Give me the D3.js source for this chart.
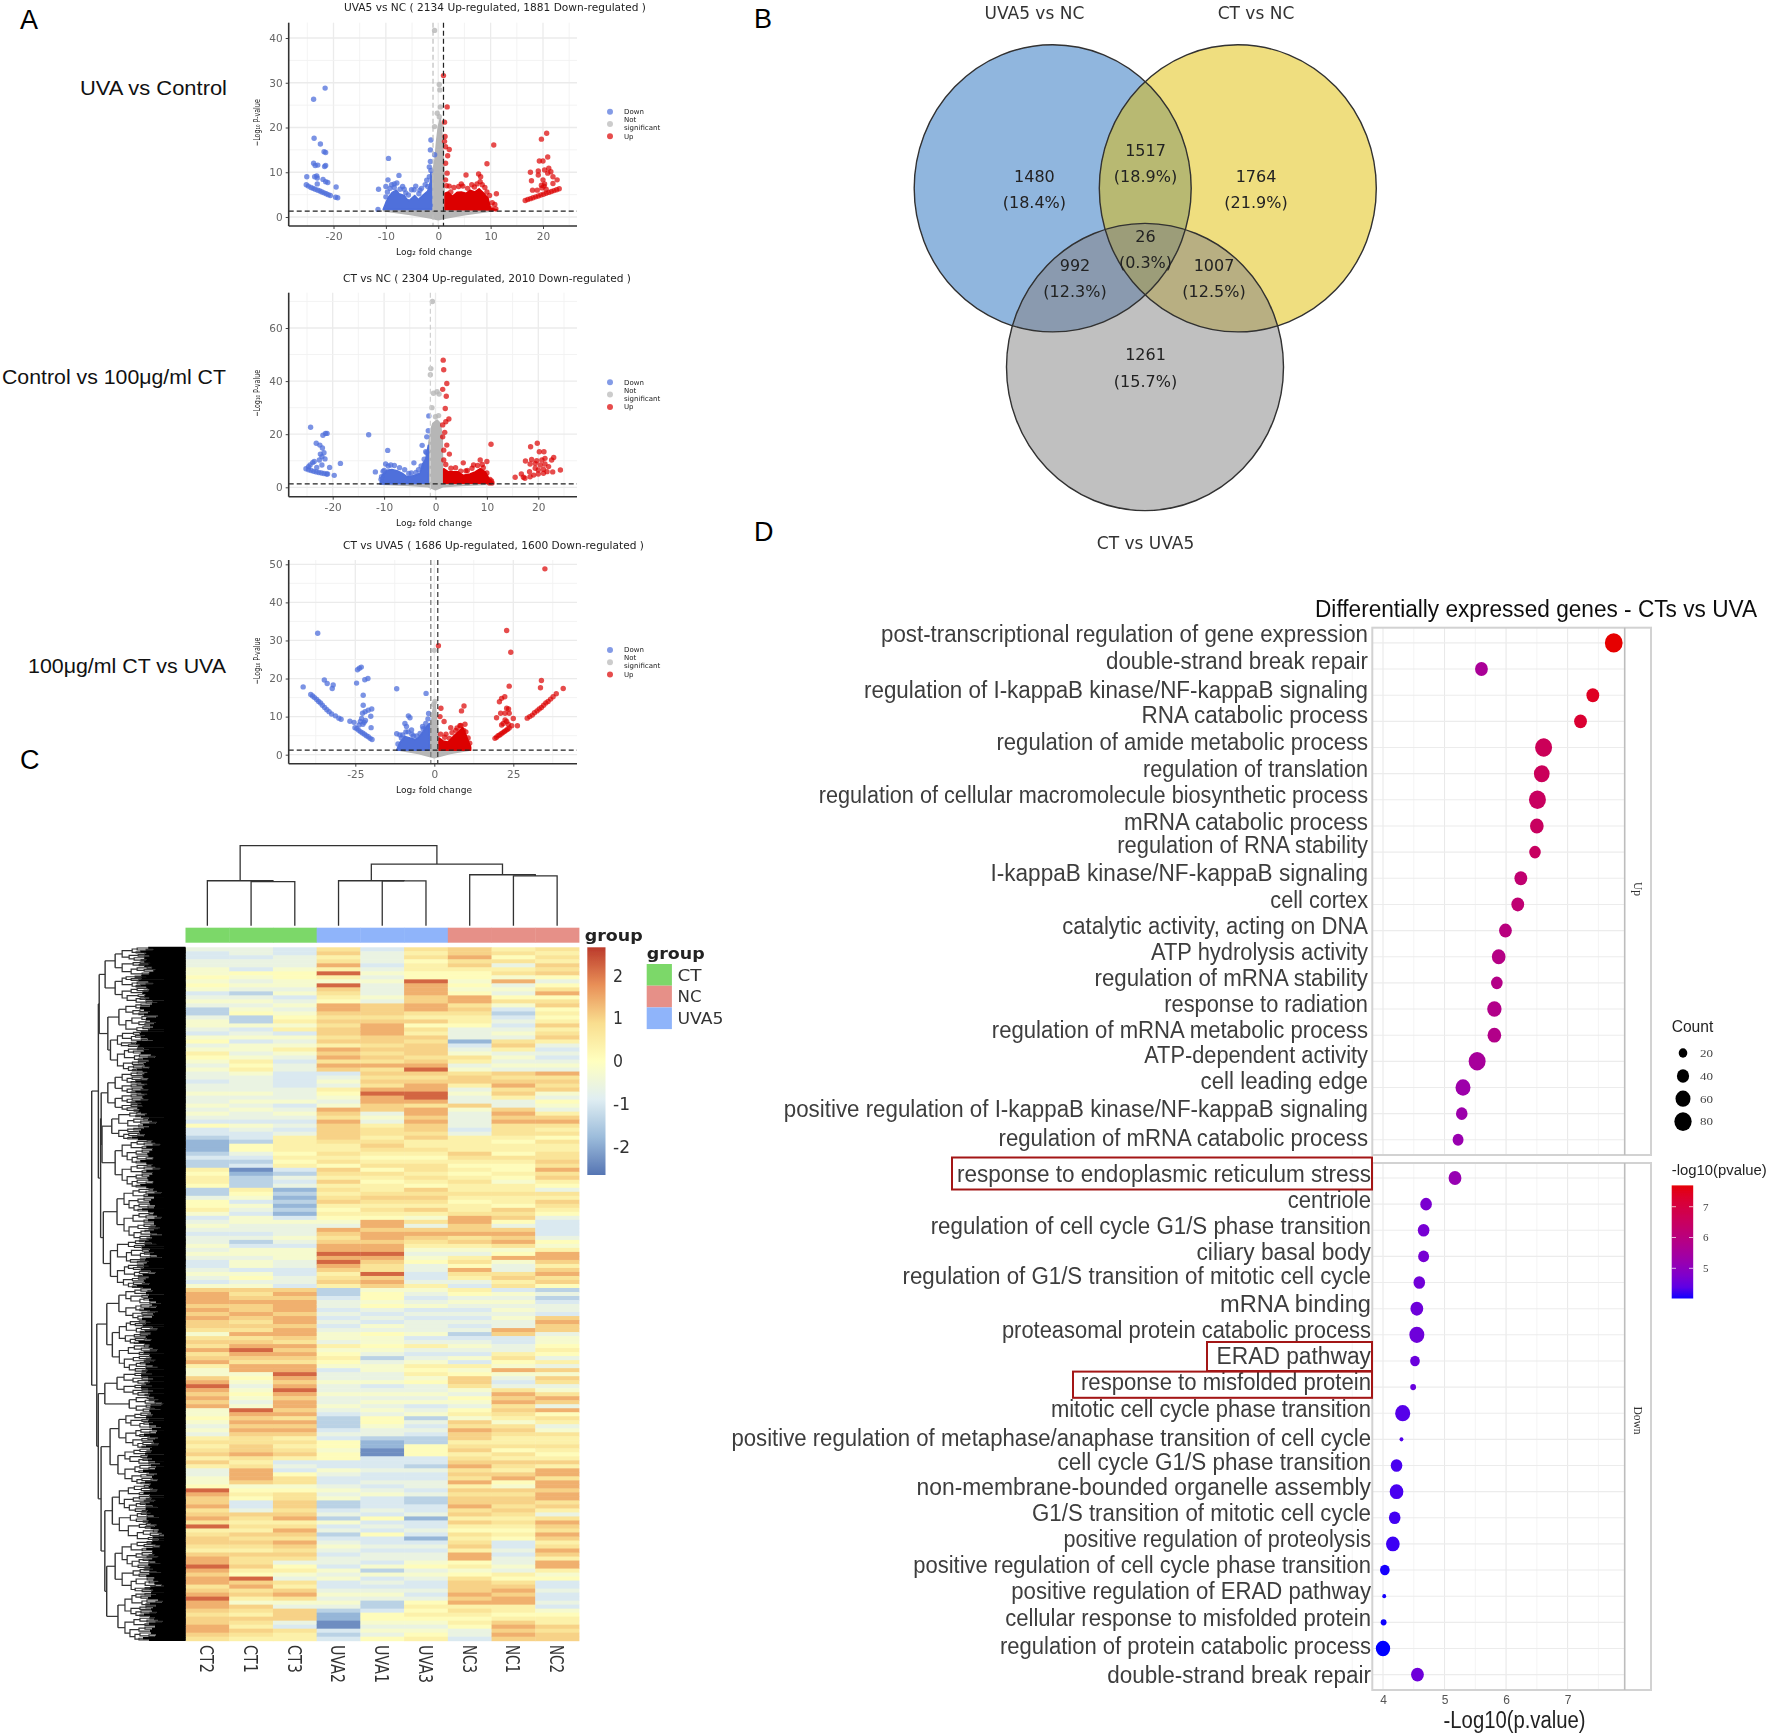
<!DOCTYPE html>
<html><head><meta charset="utf-8">
<script src="https://cdn.jsdelivr.net/npm/d3@7"></script>
<style>html,body{margin:0;padding:0;background:#fff}svg{display:block}</style>
</head><body><svg id="c" width="1772" height="1735" xmlns="http://www.w3.org/2000/svg"></svg>
<script>
/* ===== DATA: volcano 1 (UVA5 vs NC) ===== */
const v1Title="UVA5 vs NC ( 2134 Up-regulated, 1881 Down-regulated )";
const v1XTicks=[-20,-10,0,10,20], v1YTicks=[0,10,20,30,40];
const v1Down=[[-21.6,28.8],[-23.8,26.3],[-23.7,17.6],[-22.5,16.3],[-21.8,14.6],[-21.5,14.4],[-23.8,12],[-23.5,11.5],[-23,11.6],[-21.5,11.5],[-21.7,11.3],[-25.1,9],[-23.6,9],[-23.2,9.2],[-23.1,8.7],[-22,8.4],[-21.5,7.9],[-21.1,7.7],[-19.5,6.7],[-23.1,7.4],[-19.6,4.4],[-19.2,4.3],[-25.2,7.2],[-24.8,6.9],[-24.3,6.6],[-23.9,6.4],[-23.5,6.2],[-23,6],[-22.6,5.8],[-22.2,5.6],[-21.8,5.4],[-21.4,5.2],[-21,5],[-20.6,4.8],[-9.5,13.1],[-7.5,9.3],[-9.6,8.3],[-8.4,7.4],[-11.4,6.2],[-10,6.8],[-11.5,1.7],[-1.4,17.2],[-1.5,15],[-0.7,13.9],[-1.4,10.4],[-1.7,9],[-2,6.8],[-4.6,6.1],[-3.5,6],[-6.5,6.2]];
const v1DownEdge=[[-10,4.5],[-9.7,5.6],[-9.2,6.4],[-8.9,7.2],[-8.4,6.6],[-7.9,7.6],[-7.3,6.2],[-6.8,6.8],[-6.2,5.4],[-5.7,4.9],[-5.1,6.1],[-4.3,6.9],[-3.7,5.2],[-3.2,6.4],[-2.5,7.2],[-2.2,8.2],[-1.7,11.2],[-1.5,12.4]];
const v1Up=[[1,31.6],[1.7,24.6],[1.2,21.2],[1.3,18],[1.2,16.9],[1.4,15.7],[2.1,15.1],[1.8,13.7],[1.4,12],[1.7,9.8],[1.4,8.3],[10.6,16.1],[9.3,11.9],[5.3,9.4],[7.7,9.6],[8.1,9],[4.4,7.4],[2.1,6.9],[8.4,7.2],[11.1,5.2],[10.2,1.8],[11,1.8],[20.7,18.7],[19.7,17.4],[20.9,13.4],[19.3,12.5],[20,12.5],[21.1,10.9],[20.3,10.5],[21.5,10.1],[17.6,10],[19.1,10.3],[19.1,9.4],[20.9,9.8],[21.9,9],[17.8,8.1],[20,8.3],[22.7,8.3],[19.7,7.1],[20.3,7.4],[18,6],[18.9,6],[21.9,7.5],[16.6,3.7],[17.1,3.9],[17.6,4.1],[18.1,4.3],[18.6,4.5],[19.1,4.7],[19.6,4.9],[20.1,5.1],[20.6,5.3],[21.1,5.5],[21.6,5.7],[22.1,5.9],[22.6,6.1],[23.1,6.3],[19.8,6.5],[20.2,6.9],[20.6,6.2]];
const v1UpEdge=[[1.6,7],[2.4,5.6],[3,6.6],[3.9,6.8],[4.7,6.9],[5.6,6.4],[6.4,7.2],[6.9,6.7],[7.4,7.4],[8,7.9],[8.9,6.6],[9.3,5.6],[9.8,4.8],[10.3,3.2],[10.8,2.8]];
const v1Grey=[[-0.7,41.7],[0.2,29.6],[0.3,28.4],[-0.2,23.2],[0.2,22.4],[-0.7,20.2],[0.5,20.4],[0.4,24.6]];
const v1DownMass=[[-10.5,1.7],[-10,3.2],[-9.5,4.4],[-8.8,5.5],[-8,6],[-7.5,5.2],[-6.5,4.8],[-6,4],[-5.5,3.7],[-4.5,4.8],[-3.8,3.9],[-3,4.8],[-2,5.8],[-1.5,7.8],[-1.4,10],[-1.2,1.7]];
const v1UpMass=[[1.3,1.7],[1.3,5.3],[1.9,5.6],[2.7,4.6],[3.6,5.5],[4.4,5.6],[5.3,5.3],[6.1,6],[7,5.6],[7.8,6.3],[8.7,5.3],[9.5,4.2],[10,1.9],[11.2,1.6]];
const v1GreyMass=[[-1.2,1.5],[-1.2,9],[-0.6,13],[-0.3,17],[0,20],[0.4,22],[0.6,20],[0.9,15],[1.1,10],[1.1,1.5]];
const v1Fan=[[-10.5,1.4],[-5,0.5],[-1.5,-0.2],[0,-0.6],[1.5,-0.2],[5,0.5],[10.5,1.4]];
/* volcano 2 (CT vs NC) */
const v2Title="CT vs NC ( 2304 Up-regulated, 2010 Down-regulated )";
const v2XTicks=[-20,-10,0,10,20], v2YTicks=[0,20,40,60];
const v2Down=[[-24.3,22.6],[-21.9,19.6],[-21.4,20.3],[-21.1,20.3],[-23.2,16.6],[-22.5,15.9],[-22,14.8],[-22.4,12.5],[-21.7,13],[-22.1,11.5],[-21.5,10.7],[-23.6,9.7],[-23.9,9.3],[-22.6,10.3],[-24.4,8.4],[-24.7,7.8],[-22.1,8.4],[-23.1,7.5],[-18.5,9],[-20.6,7.5],[-19.7,4.5],[-21,5],[-25.2,7],[-24.7,6.6],[-24.2,6.3],[-23.7,6],[-23.2,5.8],[-22.7,5.6],[-22.2,5.4],[-21.7,5.2],[-21.2,5],[-13,19.8],[-9.3,13.9],[-11.7,5.8],[-9.7,8.8],[-4.2,9.2],[-2.6,15.8],[-1.9,13.4],[-1.3,26.9],[-1.4,21.3],[-1.7,19],[-10.5,4],[-10.2,6]];
const v2DownEdge=[[-10.6,3],[-10,6.3],[-9.2,8],[-8.7,8.4],[-8,8.2],[-7,7.4],[-6,6.6],[-5.2,5.2],[-4.7,5.4],[-3.8,5.6],[-3.3,6.6],[-2.8,8],[-2.2,10.6],[-1.7,13]];
const v2Up=[[1.5,47.9],[1.6,44.3],[2.2,39.1],[1.4,36.9],[2.1,34.3],[1.9,29.7],[2.6,25.7],[2,24.7],[1.4,23.5],[1.8,20.7],[1.4,19],[2.2,15.9],[1.6,14],[2.7,12.5],[1.6,10.3],[10.8,16.2],[8.7,10.3],[10,9.7],[5.4,9.2],[7.4,8.4],[19.8,16.6],[18.5,15.3],[20.2,13.4],[21.1,13.4],[23,11.2],[22.6,10.3],[17.5,9.9],[18.7,10.5],[19.7,10],[20.7,10.3],[21.3,10.9],[18.4,8.8],[19.4,9],[20.4,8.4],[21.3,8.8],[22,7.8],[19.4,7.2],[20,6.5],[21,6.8],[21.7,5.9],[22.8,5.8],[24.3,6.5],[15.5,3.8],[16.7,5],[17.1,3.8],[18.3,5.9],[18.4,4],[19.1,4.6],[20,5],[21,5.3],[17.4,3.4],[10.5,1.6],[11,1.6]];
const v2UpEdge=[[2,8.6],[3,7.2],[3.9,7.4],[4.9,6.1],[5.9,6.2],[6.2,6.3],[7.1,7.2],[8.2,8.2],[9.1,8.6],[9.3,7.4],[10,5.4],[10.6,3],[10.9,2.4]];
const v2Grey=[[-0.6,70],[-0.9,44.7],[-1,42.4],[-0.4,35.4],[0.3,36],[0.7,35.1],[-0.7,30],[0.6,27],[0,26.6]];
const v2DownMass=[[-10.8,1.3],[-10.4,4.5],[-9.5,6.4],[-8.5,6.7],[-7.5,6.2],[-6.5,5.3],[-5.6,4],[-4.3,4.3],[-3,5.3],[-2.5,8.8],[-1.9,10.6],[-1.4,15.8],[-1.4,1.5]];
const v2UpMass=[[1.6,1.5],[1.6,7],[2.5,5.8],[3.5,5.8],[4.4,5.8],[5.4,4.5],[6.7,5],[7.7,5.8],[8.7,7],[9.7,5.8],[10.3,3.6],[11.2,1.5]];
const v2GreyMass=[[-1.3,1.5],[-1.3,16.6],[-0.9,21.6],[-0.5,24.1],[0.3,25.3],[0.9,24.1],[1.3,19],[1.4,1.5]];
const v2Fan=[[-10.8,1.2],[-5,0.7],[-1.4,0.2],[0,-0.9],[1.4,0.2],[5,0.7],[10.5,1.2]];
/* volcano 3 (CT vs UVA5) */
const v3Title="CT vs UVA5 ( 1686 Up-regulated, 1600 Down-regulated )";
const v3XTicks=[-25,0,25], v3YTicks=[0,10,20,30,40,50];
const v3Down=[[-36.9,31.9],[-41.5,17.8],[-34.8,19.6],[-33.9,18.7],[-32,18.3],[-32.3,17.4],[-23.1,23],[-24.3,22.3],[-23.7,22.7],[-24.6,18.8],[-22,19.7],[-21,20],[-22.5,15.6],[-22.5,13],[-19.8,12],[-20.9,11.7],[-21.9,11.3],[-22.7,10.9],[-20.1,10.1],[-26.7,8.8],[-25.4,8.5],[-20,7.1],[-11.9,17.3],[-2.6,16.1],[-23.4,8.7],[-23,9.5],[-22.6,8],[-22.2,8.5],[-23.8,7.8],[-21.8,9],[-39.1,15.8],[-38.5,15.4],[-37.9,15],[-37.2,14.5],[-36.6,14],[-36,13.6],[-35.4,13],[-34.7,12.4],[-34,11.8],[-33.3,11.3],[-32.5,10.7],[-31.3,10.2],[-30.2,9.6],[-29.5,9.3],[-25.1,7.1],[-24.5,6.8],[-23.9,6.4],[-23.3,6],[-22.7,5.7],[-22.1,5.4],[-21.5,5],[-20.9,4.7],[-20.3,4.3],[-19.7,4],[-8.2,10.2],[-7.7,9.7],[-9.3,8.2],[-8.8,7.4],[-7.2,6.5],[-11.9,5.5],[-10.9,5.2],[-3.7,7.4],[-2.6,6.9]];
const v3DownEdge=[[-11.5,2.8],[-10.4,4.4],[-10,5.2],[-9,6],[-8.3,6],[-7.1,5.4],[-6.6,4.9],[-5.6,4.9],[-4.5,5.6],[-3.5,6.8],[-2.7,8.2],[-2,9.4],[-1.8,10.8]];
const v3Up=[[35,48.8],[22.9,32.6],[24.2,26.9],[33.9,19.5],[33.6,17.6],[23.7,18],[22.3,15.2],[21.3,14.8],[20.6,13.9],[22.9,12.2],[23.5,12],[22.4,10.9],[23.7,10.9],[21,10.9],[19.7,9.7],[25,9.5],[26.3,7.6],[1.3,28.6],[22.4,9.1],[22.9,8.7],[21.8,8.2],[23.4,8],[21.3,7.8],[24.5,7.6],[29.4,9.6],[30.2,10],[31,10.4],[31.7,11],[32.5,11.5],[33.2,12],[33.9,12.4],[34.6,13],[35.3,13.6],[36,14],[36.8,14.6],[37.6,15.2],[38.6,16],[40.8,17.4],[19.2,4.3],[19.7,4.6],[20.2,5],[20.7,5.2],[21.2,5.5],[21.7,5.8],[22.2,6.1],[22.7,6.4],[23.2,6.7],[23.7,7],[2.1,12.2],[1.8,10],[3.1,8.7],[8.6,11.5],[9.4,12.8],[5.2,7.1],[8.1,7.6],[9.7,8],[3.7,5.4]];
const v3UpEdge=[[2,5.4],[3.3,4.6],[4.8,4.3],[5.6,5.8],[6.8,6.4],[7.2,7],[8.4,7.7],[9.3,6.4],[10,6],[10.7,4.4],[11.2,3]];
const v3Grey=[[0,27.4],[0.2,14],[-0.2,13.2]];
const v3DownMass=[[-11.9,1.2],[-10.9,3.2],[-9.3,4.8],[-7.7,4.4],[-6.1,4],[-5.1,4.4],[-4,5.5],[-3,6.8],[-1.6,8.2],[-1.6,1.2]];
const v3UpMass=[[1.5,1.2],[1.5,4.4],[2.8,3.6],[4.4,3.3],[6,4.8],[7.6,6],[9,7.2],[10.2,4.8],[11.5,2],[11.5,1.2]];
const v3GreyMass=[[-1.5,1.2],[-1.4,7],[-0.8,9],[-0.2,13],[0.2,14],[0.6,10],[1.1,7],[1.3,1.2]];
const v3Fan=[[-11,1.2],[-5,0.3],[0,-0.8],[5,0.3],[11,1.2]];
const volcanoLegend=["Down","Not","significant","Up"];

/* ===== DATA: Venn ===== */
const vennSets=["UVA5 vs NC","CT vs NC","CT vs UVA5"];
const vennCounts=["1480","1517","1764","992","26","1007","1261"];
const vennShares=["(18.4%)","(18.9%)","(21.9%)","(12.3%)","(0.3%)","(12.5%)","(15.7%)"];

/* ===== DATA: heatmap (each letter = one row, level) ===== */
const heatColumns=["CT2","CT1","CT3","UVA2","UVA1","UVA3","NC3","NC1","NC2"];
const heatGroups=["CT","CT","CT","UVA5","UVA5","UVA5","NC","NC","NC"];
const heatLevels={a:-2.3,b:-1.8,c:-1.35,d:-.95,e:-.6,f:-.25,g:.08,h:.38,i:.7,j:1.0,k:1.38,l:2.15};
const heatCT2=["eddee","ffgfg","fdefe","cceff","edfge","fhgfe","feede","efeef","efedg","ddcbb","bcdcc","hghhg","ccegg","hfdef","edeef","efedd","efedf","jkkkj","kjkjj","ifiji","kijkh","ffjkl","kjkjk","ffg","fefeh","ihijh","jheef","fglkj","jkijk","ilhij","jihjk","klkjk","kijkl","kkjij","jkkji"].join("");
const heatCT1=["eedee","dgfef","ecefe","fgccf","defdf","fefhg","hfeee","efefe","feedf","eddcg","gedcd","abccc","hgfdf","edffe","edecd","ffeff","dfgef","jijkj","jkjij","ikijk","lkjik","kfgfe","fgfef","lkj","kjkji","ijjki","hikkk","jfghg","ddeji","hihji","jihji","ijhgl","jkijh","fjihj","ihjih"].join("");
const heatCT3=["ddeee","fggff","efdef","efghf","hdfef","hfede","edddd","eeefd","efede","dehhh","hghgh","dcede","bcbcb","cbdfe","eefed","fffee","ddeed","jkjkk","kjkkj","kkjik","jkjik","klkjk","lkjkk","jki","kjkjh","ihijh","dedgi","ifgii","jjijk","hikji","kjiji","eghfe","ihjki","fejjj","edihh"].join("");
const heatUVA2=["ijhik","hlhfl","jihgk","kjiji","jjijh","kjkik","jdefe","hgfef","kjikj","jjjih","hihig","jihjh","ihijh","ghgfe","kjijk","klklk","jhijh","ccdee","deded","effeh","fghgf","deefe","efeef","edc","ccded","ggfgg","ddfed","defef","ccdec","fdecd","efede","edfef","ddefe","fecbb","aadcd"].join("");
const heatUVA1=["deeed","efefe","eefej","jjijk","kkjji","jijik","ijiji","klkkj","jefeh","iihij","ihghi","gihgh","hijih","ihgkk","jkkjk","klkji","iljkj","fggfg","ededf","egffg","fecef","feefd","efefe","feg","gfeec","bbaad","ddedd","edefd","ddedg","dedgd","dedee","dfcfd","edefe","ccdgg","fefeg"].join("");
const heatUVA3=["ihigh","hgglk","kkjjk","kihjg","ihjij","jjijk","ljijk","kllki","kkjkj","jijhh","ihghi","ihihg","jijih","jhfie","jkjih","fefge","eddeh","fedef","dedee","efdeh","edefh","ghfge","efefd","efc","ededc","cgggd","dcedd","eedec","cddeb","ddedb","dedee","fgefe","ddede","ghghg","fefgh"].join("");
const heatNC3=["jjkij","hggfg","fgkki","jihhg","eeebd","efihe","fijjh","efeej","feeee","dehhh","hjihg","hghih","hihgh","hikkj","jkijh","fehig","kihed","hgefe","deded","ecdef","edfdh","fgjji","fegfe","ghf","jikjj","hijhi","jkiji","khjij","jkijh","jhgih","ijhkk","ghfgi","jjjkj","khihg","hgeed"].join("");
const heatNC1=["higie","hifke","fegif","dcded","efeij","hefef","ejijk","ijhee","jkjki","iihgh","hgihg","ghgfh","hihhg","jijge","jkjki","fgkfe","eijhi","dfefe","fefee","kjdde","ehigf","kfede","ikjki","jih","fijih","higih","jihjk","gfjij","jijih","ihghg","ddede","efehg","ijkjk","khhgh","jkjkj"].join("");
const heatNC2=["ihihj","ijgeg","ikgij","ghghj","hijhe","dedef","ekiji","jfegf","ehjki","higih","hiiji","kijhg","eihji","hgedd","ddegf","hkkjh","jkijg","cecde","edjkj","jeffg","hgehe","jfjie","fikje","kgi","hefih","hihgh","jhkki","kkjkk","ijhei","kjikj","hikjh","kkhfg","ddedd","edfgh","hjijj"].join("");
const heatRows=[heatCT2,heatCT1,heatCT3,heatUVA2,heatUVA1,heatUVA3,heatNC3,heatNC1,heatNC2];
const heatScaleTicks=[2,1,0,-1,-2];
const groupNames=["CT","NC","UVA5"];
const groupColours={CT:"#7BD869",NC:"#E69088",UVA5:"#8FB4FA"};
/* column dendrogram: [height, childA, childB], leaf = column index */
const colTree=[100,[56.2,0,[55,1,2]],[77,[56.2,3,[56,4,5]],[63.7,6,[62.2,7,8]]]];
/* row dendrogram: [distance, childA, childB], leaf = [firstRow,lastRow] */
const rowP1a=[85.7,[75,[0,3.5],[3.5,7]],[75,[7,10],[10,14]]];
const rowP1b=[82.8,[71,[14,17],[17,21]],[80,[21,25],[25,31]]];
const rowP2a=[82.8,[75,[31,34],[34,36.5]],[75,[36.5,39],[39,41]]];
const rowP2b=[89,[78.6,[41,45],[45,48]],[75,[48,54],[54,60]]];
const rowP3=[87.6,[73,[60,66],[66,73]],[80,[73,79],[79,85]]];
const rowUp=[92.9,[92,rowP1a,rowP1b],[90.5,[89.9,rowP2a,rowP2b],rowP3]];
const rowQ1=[83.9,[71,[85,89],[89,93]],[78,[93,99],[99,106]]];
const rowQ2a=[86,[73,[106,109],[109,112]],[60,[112,114],[114,116]]];
const rowQ3=[80.4,[71,[116,120],[120,125]],[72,[125,129],[129,134]]];
const rowQ4=[86,[78,[134,141],[141,148]],[84,[75,[148,155],[155,161]],[72,[161,167],[167,173]]]];
const rowLow=[94.6,rowQ1,[93,rowQ2a,[90,rowQ3,rowQ4]]];
const rowTree=[100,rowUp,rowLow];

/* ===== DATA: enrichment dot plot ===== */
const upTerms=["post-transcriptional regulation of gene expression","double-strand break repair","regulation of I-kappaB kinase/NF-kappaB signaling","RNA catabolic process","regulation of amide metabolic process","regulation of translation","regulation of cellular macromolecule biosynthetic process","mRNA catabolic process","regulation of RNA stability","I-kappaB kinase/NF-kappaB signaling","cell cortex","catalytic activity, acting on DNA","ATP hydrolysis activity","regulation of mRNA stability","response to radiation","regulation of mRNA metabolic process","ATP-dependent activity","cell leading edge","positive regulation of I-kappaB kinase/NF-kappaB signaling","regulation of mRNA catabolic process"];
const upPvalue=[7.75,5.6,7.41,7.21,6.61,6.58,6.51,6.5,6.47,6.24,6.19,5.99,5.88,5.85,5.81,5.81,5.53,5.3,5.28,5.22];
const upCount=[84,44,44,44,77,66,77,50,36,44,44,44,50,36,55,50,77,60,36,32];
const downTerms=["response to endoplasmic reticulum stress","centriole","regulation of cell cycle G1/S phase transition","ciliary basal body","regulation of G1/S transition of mitotic cell cycle","mRNA binding","proteasomal protein catabolic process","ERAD pathway","response to misfolded protein","mitotic cell cycle phase transition","positive regulation of metaphase/anaphase transition of cell cycle","cell cycle G1/S phase transition","non-membrane-bounded organelle assembly","G1/S transition of mitotic cell cycle","positive regulation of proteolysis","positive regulation of cell cycle phase transition","positive regulation of ERAD pathway","cellular response to misfolded protein","regulation of protein catabolic process","double-strand break repair"];
const downPvalue=[5.17,4.7,4.66,4.66,4.59,4.55,4.55,4.52,4.49,4.32,4.3,4.22,4.22,4.19,4.16,4.03,4.02,4.01,4.0,4.56];
const downCount=[44,36,36,32,36,44,60,25,9,60,4,36,50,36,50,25,4,9,55,44];
const sizeLegend=[20,40,60,80];
const pvalueLegend=[7,6,5];
const dotTicks=[4,5,6,7];

/* ===== DRAWING ===== */
const svg=d3.select("#c");
const defs=svg.append("defs");
[["b3",.35],["b5",.55],["b7",.7]].forEach(([id,s])=>{
  defs.append("filter").attr("id",id).attr("filterUnits","userSpaceOnUse").attr("x",0).attr("y",0).attr("width",1772).attr("height",1735)
    .append("feGaussianBlur").attr("stdDeviation",s);
});
const SANS="'Liberation Sans',Arial,sans-serif", DEJA="'DejaVu Sans',sans-serif", SERIF="'Liberation Serif',serif";
function label(g,t,x,y,o={}){
  const e=g.append("text").attr("x",x).attr("y",y).attr("dy",".35em").text(t)
    .attr("font-family",o.font||SANS).attr("font-size",o.size||14).attr("fill",o.fill||"#111")
    .attr("text-anchor",o.anchor||"start");
  if(o.weight)e.attr("font-weight",o.weight);
  if(o.len)e.attr("textLength",o.len).attr("lengthAdjust","spacingAndGlyphs");
  if(o.rotate)e.attr("transform",`rotate(${o.rotate} ${x} ${y})`);
  return e;
}
/* panel letters + side labels */
const top0=svg.append("g");
[["A",20,20],["B",754,19],["C",20,760],["D",754,532]].forEach(([t,x,y])=>label(top0,t,x,y,{size:27,fill:"#000"}));
label(top0,"UVA vs Control",80,87.5,{size:20.5,len:147});
label(top0,"Control vs 100μg/ml CT",2,376.5,{size:20.5,len:224});
label(top0,"100μg/ml CT vs UVA",28,665.5,{size:20.5,len:198});

/* ---- volcano panels ---- */
const BLUE="#4F6FDB",RED="#DC0404",GREY="#B6B6B6";
function volcano(c){
  const g=svg.append("g").attr("filter","url(#b7)");
  const x=d3.scaleLinear([c.xt[0],c.xt[c.xt.length-1]],c.xr);
  const y=d3.scaleLinear([c.yt[0],c.yt[c.yt.length-1]],c.yr);
  const xStep=c.xt[1]-c.xt[0], yStep=c.yt[1]-c.yt[0];
  const grid=g.append("g");
  d3.range(c.xmin,c.xmax+.01,xStep/2).forEach(v=>{
    const major=c.xt.includes(v);
    grid.append("line").attr("x1",x(v)).attr("x2",x(v)).attr("y1",c.top).attr("y2",c.bottom).attr("stroke",major?"#ebebeb":"#f2f2f2").attr("stroke-width",major?1.3:.9);
  });
  d3.range(c.ymin,c.ymax+.01,yStep/2).forEach(v=>{
    const major=c.yt.includes(v);
    grid.append("line").attr("x1",c.left).attr("x2",c.right).attr("y1",y(v)).attr("y2",y(v)).attr("stroke",major?"#ebebeb":"#f2f2f2").attr("stroke-width",major?1.3:.9);
  });
  const ln=d3.line().x(d=>x(d[0])).y(d=>y(d[1]));
  const mass=(d,col)=>g.append("path").attr("d",ln(d)+"Z").attr("fill",col).attr("stroke",col).attr("stroke-width",1.6).attr("stroke-linejoin","round");
  mass(c.fan,GREY); mass(c.greyMass,GREY); mass(c.downMass,BLUE); mass(c.upMass,RED);
  const pts=(d,col,op)=>g.append("g").selectAll("circle").data(d).join("circle").attr("cx",p=>x(p[0])).attr("cy",p=>y(p[1])).attr("r",2.7).attr("fill",col).attr("fill-opacity",op);
  pts(c.grey,GREY,.8); pts(c.down,BLUE,.75); pts(c.up,RED,.7);
  /* thresholds */
  g.append("line").attr("x1",c.left).attr("x2",c.right).attr("y1",y(c.hline)).attr("y2",y(c.hline)).attr("stroke","#222").attr("stroke-width",1.2).attr("stroke-dasharray","5 3");
  c.vlines.forEach(([v,col])=>g.append("line").attr("x1",x(v)).attr("x2",x(v)).attr("y1",c.top).attr("y2",c.bottom).attr("stroke",col).attr("stroke-width",1.2).attr("stroke-dasharray","5 3"));
  /* axes */
  const ax=g.append("g").attr("transform",`translate(0,${c.bottom})`).call(d3.axisBottom(x).tickValues(c.xt).tickSize(3).tickPadding(4).tickFormat(String));
  const ay=g.append("g").attr("transform",`translate(${c.left},0)`).call(d3.axisLeft(y).tickValues(c.yt).tickSize(3).tickPadding(3).tickFormat(String));
  [ax,ay].forEach(a=>{a.select(".domain").remove();a.selectAll("text").attr("font-family",DEJA).attr("font-size",10.5).attr("fill","#666");a.selectAll("line").attr("stroke","#444");});
  g.append("line").attr("x1",c.left).attr("x2",c.left).attr("y1",c.top).attr("y2",c.bottom).attr("stroke","#333").attr("stroke-width",1.6);
  g.append("line").attr("x1",c.left).attr("x2",c.right).attr("y1",c.bottom).attr("y2",c.bottom).attr("stroke","#333").attr("stroke-width",1.6);
  /* text */
  label(g,c.title,c.titleX,c.titleY,{font:DEJA,size:10,fill:"#222",len:c.titleW});
  label(g,"Log₂ fold change",434,c.bottom+25.5,{font:DEJA,size:9.5,fill:"#222",anchor:"middle",len:76});
  label(g,"−Log₁₀ P-value",257,c.legY+11,{font:DEJA,size:9.5,fill:"#222",anchor:"middle",rotate:-90,len:47});
  [[BLUE,0,"Down"],[GREY,12.3,null],[RED,24.6,"Up"]].forEach(([col,dy,t])=>{
    g.append("circle").attr("cx",610).attr("cy",c.legY+dy).attr("r",3).attr("fill",col).attr("fill-opacity",.7);
    if(t)label(g,t,624,c.legY+dy,{font:DEJA,size:7,fill:"#222"});
  });
  label(g,volcanoLegend[1],624,c.legY+8,{font:DEJA,size:7,fill:"#222"});
  label(g,volcanoLegend[2],624,c.legY+16,{font:DEJA,size:7,fill:"#222"});
}
volcano({title:v1Title,xt:v1XTicks,yt:v1YTicks,xr:[333.5,543],yr:[217,38],left:288.7,right:577,top:22.7,bottom:226,xmin:-25,xmax:25,ymin:0,ymax:40,
  down:v1Down.concat(v1DownEdge),up:v1Up.concat(v1UpEdge),grey:v1Grey,downMass:v1DownMass,upMass:v1UpMass,greyMass:v1GreyMass,fan:v1Fan,hline:1.3,vlines:[[-1,"#bdbdbd"],[1,"#222"]],titleX:344,titleY:7,titleW:302,legY:111.7});
volcano({title:v2Title,xt:v2XTicks,yt:v2YTicks,xr:[332.7,538.3],yr:[487.3,328],left:288.7,right:577,top:292.7,bottom:496.7,xmin:-25,xmax:25,ymin:0,ymax:70,
  down:v2Down.concat(v2DownEdge),up:v2Up.concat(v2UpEdge),grey:v2Grey,downMass:v2DownMass,upMass:v2UpMass,greyMass:v2GreyMass,fan:v2Fan,hline:1.3,vlines:[[-1,"#d0d0d0"]],titleX:343,titleY:278,titleW:288,legY:382.3});
volcano({title:v3Title,xt:v3XTicks,yt:v3YTicks,xr:[355.3,513.3],yr:[754.7,564.3],left:288.7,right:577,top:560,bottom:763.7,xmin:-37.5,xmax:37.5,ymin:0,ymax:50,
  down:v3Down.concat(v3DownEdge),up:v3Up.concat(v3UpEdge),grey:v3Grey,downMass:v3DownMass,upMass:v3UpMass,greyMass:v3GreyMass,fan:v3Fan,hline:1.2,vlines:[[-1.1,"#777"],[1.1,"#333"]],titleX:343,titleY:545,titleW:301,legY:650});

/* ---- Venn ---- */
(function(){
  const g=svg.append("g").attr("filter","url(#b5)");
  const circles=[{cx:1052.7,cy:188.3,c:"#256DBD"},{cx:1237.8,cy:188.3,c:"#DFBD05"},{cx:1145,cy:367,c:"#818181"}];
  g.selectAll("ellipse").data(circles).join("ellipse").attr("cx",d=>d.cx).attr("cy",d=>d.cy).attr("rx",138.5).attr("ry",143.6)
    .attr("fill",d=>d.c).attr("fill-opacity",.5);
  g.append("g").selectAll("ellipse").data(circles).join("ellipse").attr("cx",d=>d.cx).attr("cy",d=>d.cy).attr("rx",138.5).attr("ry",143.6)
    .attr("fill","none").attr("stroke","#303030").attr("stroke-width",1.4);
  const px=[1034.4,1145.5,1256,1075,1145.5,1214,1145.5], py=[176,150,176,265,236,265,354.4];
  vennCounts.forEach((t,i)=>{
    label(g,t,px[i],py[i],{font:DEJA,size:16,fill:"#222",anchor:"middle"});
    label(g,vennShares[i],px[i],py[i]+26.5,{font:DEJA,size:16,fill:"#222",anchor:"middle"});
  });
  [[1034.4,13.5],[1256,13.5],[1145.5,543]].forEach(([x,y],i)=>label(g,vennSets[i],x,y,{font:DEJA,size:17,fill:"#333",anchor:"middle"}));
})();

/* ---- heatmap ---- */
(function(){
  const g=svg.append("g").attr("filter","url(#b5)");
  const L=185.5,R=579,T=947.3,B=1640.7;
  const xB=d3.scaleBand(d3.range(heatColumns.length),[L,R]);
  const col=d3.scaleLinear([-2.6,-1.73,-.87,0,.87,1.73,2.6],["#5675B3","#9CBCDB","#E0EEF2","#FFFFBF","#F9DE8F","#E99058","#BB3A2B"]);
  heatRows.forEach((s,ci)=>{
    const cells=s.split("");
    const yB=d3.scaleBand(d3.range(cells.length),[T,B]);
    g.append("g").selectAll("rect").data(cells).join("rect")
      .attr("x",xB(ci)).attr("width",xB.bandwidth()+.4).attr("y",(d,i)=>yB(i)).attr("height",yB.bandwidth()+.5)
      .attr("fill",d=>col(heatLevels[d]));
  });
  /* annotation bar */
  g.append("g").selectAll("rect").data(heatGroups).join("rect").attr("x",(d,i)=>xB(i)).attr("width",xB.bandwidth()+.4).attr("y",927.7).attr("height",15).attr("fill",d=>groupColours[d]);
  /* column labels */
  heatColumns.forEach((t,i)=>label(g,t,xB(i)+xB.bandwidth()/2,1645,{font:DEJA,size:20,fill:"#333",rotate:90,len:t.length>3?38:28}).attr("dy",".36em"));
  /* column dendrogram */
  const cy=d3.scaleLinear([0,100],[925.7,845.7]);
  const cg=g.append("g").attr("stroke","#333").attr("stroke-width",1.3).attr("fill","none");
  (function walk(n){
    if(typeof n==="number")return [xB(n)+xB.bandwidth()/2,cy(0)];
    const a=walk(n[1]),b=walk(n[2]),y=cy(n[0]);
    cg.append("path").attr("d",`M${a[0]},${a[1]}V${y}H${b[0]}V${b[1]}`);
    return [(a[0]+b[0])/2,y];
  })(colTree);
  /* row dendrogram */
  const rx=d3.scaleLinear([0,100],[185.5,91.7]);
  const rowsN=heatCT2.length, ry=d3.scaleLinear([0,rowsN],[T,B]);
  const rg=g.append("g").attr("stroke","#333").attr("stroke-width",1.2).attr("fill","none");
  const fanSplit=[.45,.62,.36,.55,.5,.4,.66];
  const fanStep=[6,10,5,11,7,4,9];
  let k=0;
  function fan(r0,r1,x){
    if(r1-r0<.55||x>170){rg.append("path").attr("d",`M${x},${ry((r0+r1)/2)}H${L}`).attr("stroke","#000").attr("stroke-width",2.4);return ry((r0+r1)/2);}
    const m=r0+(r1-r0)*fanSplit[k++%7], xa=x+fanStep[k%7], xb=x+fanStep[(k+3)%7];
    const ya=fan(r0,m,xa), yb=fan(m,r1,xb);
    rg.append("path").attr("d",`M${xa},${ya}H${x}V${yb}H${xb}`);
    return (ya+yb)/2;
  }
  (function walk(n,parentX){
    if(n.length===2){const sx=parentX+7;const y=fan(n[0],n[1],sx);rg.append("path").attr("d",`M${parentX},${y}H${sx}`);return y;}
    const x=rx(n[0]);
    const a=walk(n[1],x),b=walk(n[2],x);
    rg.append("path").attr("d",`M${x},${a}V${b}`).attr("stroke-width",1.4);
    const y=(a+b)/2;
    if(parentX!==null)rg.append("path").attr("d",`M${parentX},${y}H${x}`);
    return y;
  })(rowTree,null);
  g.append("rect").attr("x",164).attr("y",T).attr("width",21.5).attr("height",B-T).attr("fill","#000");
  /* scale */
  const grad=defs.append("linearGradient").attr("id","hm").attr("x1",0).attr("x2",0).attr("y1",1).attr("y2",0);
  col.domain().forEach((v,i)=>grad.append("stop").attr("offset",i/6).attr("stop-color",col(v)));
  g.append("rect").attr("x",587.3).attr("y",T).attr("width",18.2).attr("height",1175-T).attr("fill","url(#hm)");
  const sy=d3.scaleLinear([0,2],[1061.3,975.7]);
  heatScaleTicks.forEach(v=>label(g,String(v),613,sy(v),{font:DEJA,size:17,fill:"#333",len:String(v).length>1?17:10}));
  label(g,"group",584.7,936,{font:DEJA,size:15,weight:"bold",fill:"#222",len:58});
  label(g,"group",646.7,954,{font:DEJA,size:15,weight:"bold",fill:"#222",len:58});
  groupNames.forEach((t,i)=>{
    g.append("rect").attr("x",646.7).attr("y",964+i*21.7).attr("width",25.2).attr("height",21.7).attr("fill",groupColours[t]);
    label(g,t,677.5,975+i*21.8,{font:DEJA,size:16,fill:"#333",len:t.length>2?46:24});
  });
})();

/* ---- dot plot ---- */
(function(){
  const g=svg.append("g").attr("filter","url(#b3)");
  const L=1372.3,D=1624.7,R=1651;
  const x=d3.scaleLinear([4,7],[1383,1567.6]);
  const col=d3.scaleLinear([4,7.75],["#0000FF","#E60000"]).interpolate(d3.interpolateLab);
  const size=d3.scaleSqrt([0,80],[0,9.4]);
  const upCentres=[635.1,662.1,691,715.8,742.4,769.8,796,822.3,846,874.1,900.8,926.7,952.6,978.5,1005.1,1031,1055.4,1081.3,1110.2,1138.3];
  const downCentres=[1174.3,1200.4,1226.5,1252.6,1276.9,1304.9,1331,1357.1,1383.2,1409.3,1438.4,1462.7,1487.7,1513.8,1539.9,1566,1592.2,1618.3,1647,1676.1];
  const upLeft=[881,1106,864,1141.5,996.5,1143,818.7,1124,1117.3,990.5,1270.3,1062.3,1151,1094.5,1164.3,991.8,1144.2,1200.5,783.8,998.5];
  const downLeft=[957,1287.8,930.7,1196.5,902.5,1220,1001.9,1216.6,1081,1050.9,731.4,1057.6,916.6,1032,1063.6,913.3,1011.3,1005.2,999.9,1107.2];
  function facet(terms,vals,counts,T,B,first,last,centres,lefts,rightEdge,strip,stripY){
    const y=d3.scalePoint(d3.range(terms.length),[first,last]);
    d3.range(3.5,7.9,.5).forEach(v=>{
      const major=dotTicks.includes(v);
      g.append("line").attr("x1",x(v)).attr("x2",x(v)).attr("y1",T).attr("y2",B).attr("stroke",major?"#e9e9e9":"#f1f1f1").attr("stroke-width",major?1.1:.8);
    });
    terms.forEach((t,i)=>g.append("line").attr("x1",L).attr("x2",D).attr("y1",y(i)).attr("y2",y(i)).attr("stroke","#ececec").attr("stroke-width",1.1));
    g.append("rect").attr("x",L).attr("y",T).attr("width",R-L).attr("height",B-T).attr("fill","none").attr("stroke","#d2d2d2").attr("stroke-width",2);
    g.append("line").attr("x1",D).attr("x2",D).attr("y1",T).attr("y2",B).attr("stroke","#bdbdbd").attr("stroke-width",1.6);
    g.append("g").selectAll("ellipse").data(vals).join("ellipse").attr("cx",d=>x(d)).attr("cy",(d,i)=>y(i))
      .attr("rx",(d,i)=>size(counts[i])*.92).attr("ry",(d,i)=>size(counts[i])).attr("fill",d=>col(d));
    terms.forEach((t,i)=>label(g,t,rightEdge,centres[i]-1,{size:23.5,fill:"#3d3d3d",anchor:"end",len:rightEdge-lefts[i]}));
    label(g,strip,1638,stripY,{font:SERIF,size:11.5,fill:"#333",anchor:"middle",rotate:90});
  }
  facet(upTerms,upPvalue,upCount,627.7,1155,642.9,1139.8,upCentres,upLeft,1368,"Up",889);
  facet(downTerms,downPvalue,downCount,1163,1690,1178,1674.6,downCentres,downLeft,1371,"Down",1420.5);
  /* axis */
  const ax=g.append("g").attr("transform","translate(0,1690)").call(d3.axisBottom(x).tickValues(dotTicks).tickSize(0).tickPadding(5).tickFormat(d3.format("d")));
  ax.select(".domain").remove();
  ax.selectAll("text").attr("font-family",SANS).attr("font-size",12).attr("fill","#555");
  label(g,"-Log10(p.value)",1514.6,1720,{size:23,fill:"#222",anchor:"middle",len:142});
  label(g,"Differentially expressed genes - CTs vs UVA",1315,609,{size:23,fill:"#111",len:442});
  /* boxes */
  [[952,1157.5,420,32],[1207,1342,165,29],[1073,1371.6,299,26.2]].forEach(([bx,by,w,h])=>
    g.append("rect").attr("x",bx).attr("y",by).attr("width",w).attr("height",h).attr("fill","none").attr("stroke","#A31515").attr("stroke-width",2));
  /* size legend */
  label(g,"Count",1671.7,1026.6,{size:16,fill:"#222",len:41.6});
  const ly=[1053,1076,1098.7,1121.6];
  sizeLegend.forEach((c,i)=>{
    g.append("ellipse").attr("cx",1683).attr("cy",ly[i]).attr("rx",size(c)*.92).attr("ry",size(c)).attr("fill","#000");
    label(g,c,1700,ly[i],{font:SERIF,size:11,fill:"#444",len:13});
  });
  /* colour legend */
  label(g,"-log10(pvalue)",1671.7,1169.4,{size:15.5,fill:"#222",len:95});
  const cb=d3.scaleLinear([5,7],[1268.3,1206.7]);
  const grad=defs.append("linearGradient").attr("id","pv").attr("x1",0).attr("x2",0).attr("y1",1).attr("y2",0);
  d3.range(0,1.01,.1).forEach(t=>grad.append("stop").attr("offset",t).attr("stop-color",col(cb.invert(1298.5-t*113.1))));
  g.append("rect").attr("x",1671.7).attr("y",1185.4).attr("width",21.5).attr("height",113.1).attr("fill","url(#pv)");
  pvalueLegend.forEach(v=>{
    [[1671.7,1676],[1689,1693.2]].forEach(([a,b])=>g.append("line").attr("x1",a).attr("x2",b).attr("y1",cb(v)).attr("y2",cb(v)).attr("stroke","#fff").attr("stroke-width",.7));
    label(g,v,1703,cb(v),{font:SERIF,size:11,fill:"#444"});
  });
})();
</script></body></html>
